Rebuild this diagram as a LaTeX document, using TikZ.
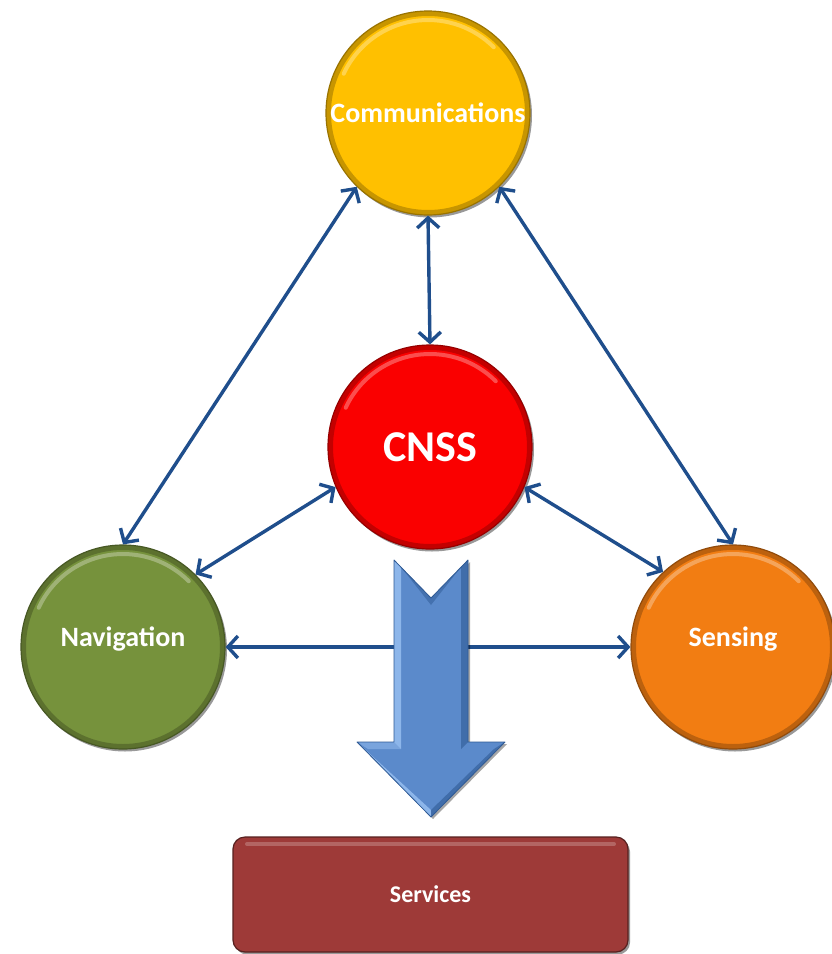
\documentclass[tikz,border=0pt]{standalone}
\usepackage{fontspec}
\setmainfont{Carlito}
\usetikzlibrary{arrows.meta,shadows}
\definecolor{commY}{HTML}{FFC000}
\definecolor{cnssR}{HTML}{FA0000}
\definecolor{navG}{HTML}{76923C}
\definecolor{sensO}{HTML}{F27D12}
\definecolor{servR}{HTML}{9E3A38}
\definecolor{arrB}{HTML}{5B8ACB}
\definecolor{arrL}{HTML}{8DB6EA}
\definecolor{arrD}{HTML}{2F5A94}
\definecolor{lineB}{HTML}{1F4E8C}
\tikzset{
  ball/.style={circle, minimum size=204pt, inner sep=0pt, text=white,
    font=\bfseries\fontsize{28}{30}\selectfont,
    fill=#1, draw=#1!60!black, line width=1.2pt,
    drop shadow={shadow xshift=2pt, shadow yshift=-2.5pt, opacity=.4, fill=black},
    path picture={
      \draw[black, opacity=.22, line width=6pt]
        (path picture bounding box.center) circle[radius=100pt];
      \draw[white, opacity=.30, line width=4pt, line cap=round]
        ([shift={(155:93pt)}]path picture bounding box.center)
        arc[start angle=155, end angle=45, radius=93pt];
    }},
  lifted/.style={text height=20pt, text depth=22pt},
  link/.style={draw=lineB, line width=3.4pt,
    {Straight Barb[length=10pt,width=22pt]}-{Straight Barb[length=10pt,width=22pt]}},
  servbox/.style={rectangle, rounded corners=12pt, minimum width=395pt, minimum height=115pt,
    fill=servR, draw=servR!55!black, line width=1.2pt, text=white,
    font=\bfseries\fontsize{24}{26}\selectfont,
    drop shadow={shadow xshift=2pt, shadow yshift=-2.5pt, opacity=.4, fill=black},
    path picture={
      \draw[white, opacity=.22, line width=4pt, line cap=round]
        ([shift={(14pt,-7pt)}]path picture bounding box.north west)
        -- ([shift={(-14pt,-7pt)}]path picture bounding box.north east);
    }}
}
\begin{document}
\begin{tikzpicture}[x=1pt,y=-1pt]
\path[use as bounding box, fill=white] (0,0) rectangle (831,954);

\node[ball=commY] (comm) at (428,113) {Communications};
\node[ball=cnssR, font=\bfseries\fontsize{44}{46}\selectfont] (cnss) at (430,447) {CNSS};
\node[ball=navG, lifted] (nav) at (123,647) {Navigation};
\node[ball=sensO, lifted] (sens) at (733,647) {Sensing};
\node[servbox] (serv) at (430.5,894.5) {Services};

% connectors
\draw[link] (comm.south) -- (cnss.north);
\draw[link] (comm.226) -- (nav.north);
\draw[link] (comm.314) -- (sens.north);
\draw[link] (cnss.203) -- (nav.45);
\draw[link] (cnss.337) -- (sens.133);
\draw[link] (nav.east) -- (sens.west);

% big arrow
\coordinate (a1) at (394,560);
\coordinate (a2) at (431,598);
\coordinate (a3) at (468,560);
\coordinate (a4) at (468,742);
\coordinate (a5) at (505,742);
\coordinate (a6) at (431,817);
\coordinate (a7) at (357,742);
\coordinate (a8) at (394,742);
\fill[black, opacity=.35] ([shift={(2pt,-2pt)}]a1) -- ([shift={(2pt,-2pt)}]a2) -- ([shift={(2pt,-2pt)}]a3) -- ([shift={(2pt,-2pt)}]a4) -- ([shift={(2pt,-2pt)}]a5) -- ([shift={(2pt,-2pt)}]a6) -- ([shift={(2pt,-2pt)}]a7) -- ([shift={(2pt,-2pt)}]a8) -- cycle;
\fill[arrB] (a1) -- (a2) -- (a3) -- (a4) -- (a5) -- (a6) -- (a7) -- (a8) -- cycle;
\fill[arrL] (a1) -- (401,567) -- (401,749) -- (394,742) -- cycle;
\fill[arrL] (a7) -- (431,810) -- (a6) -- cycle;
\fill[arrL, opacity=.6] (a8) -- (401,749) -- (368,749) -- (a7) -- cycle;
\fill[arrD, opacity=.6] (461,567) -- (a3) -- (a4) -- (461,749) -- cycle;
\fill[arrD, opacity=.6] (a5) -- (a6) -- (431,810) -- (494,749) -- cycle;
\fill[arrD, opacity=.5] (a1) -- (a2) -- (a3) -- (461,567) -- (431,605) -- (401,567) -- cycle;
\draw[arrD, line width=.8pt, line join=round] (a1) -- (a2) -- (a3) -- (a4) -- (a5) -- (a6) -- (a7) -- (a8) -- cycle;
\end{tikzpicture}
\end{document}
